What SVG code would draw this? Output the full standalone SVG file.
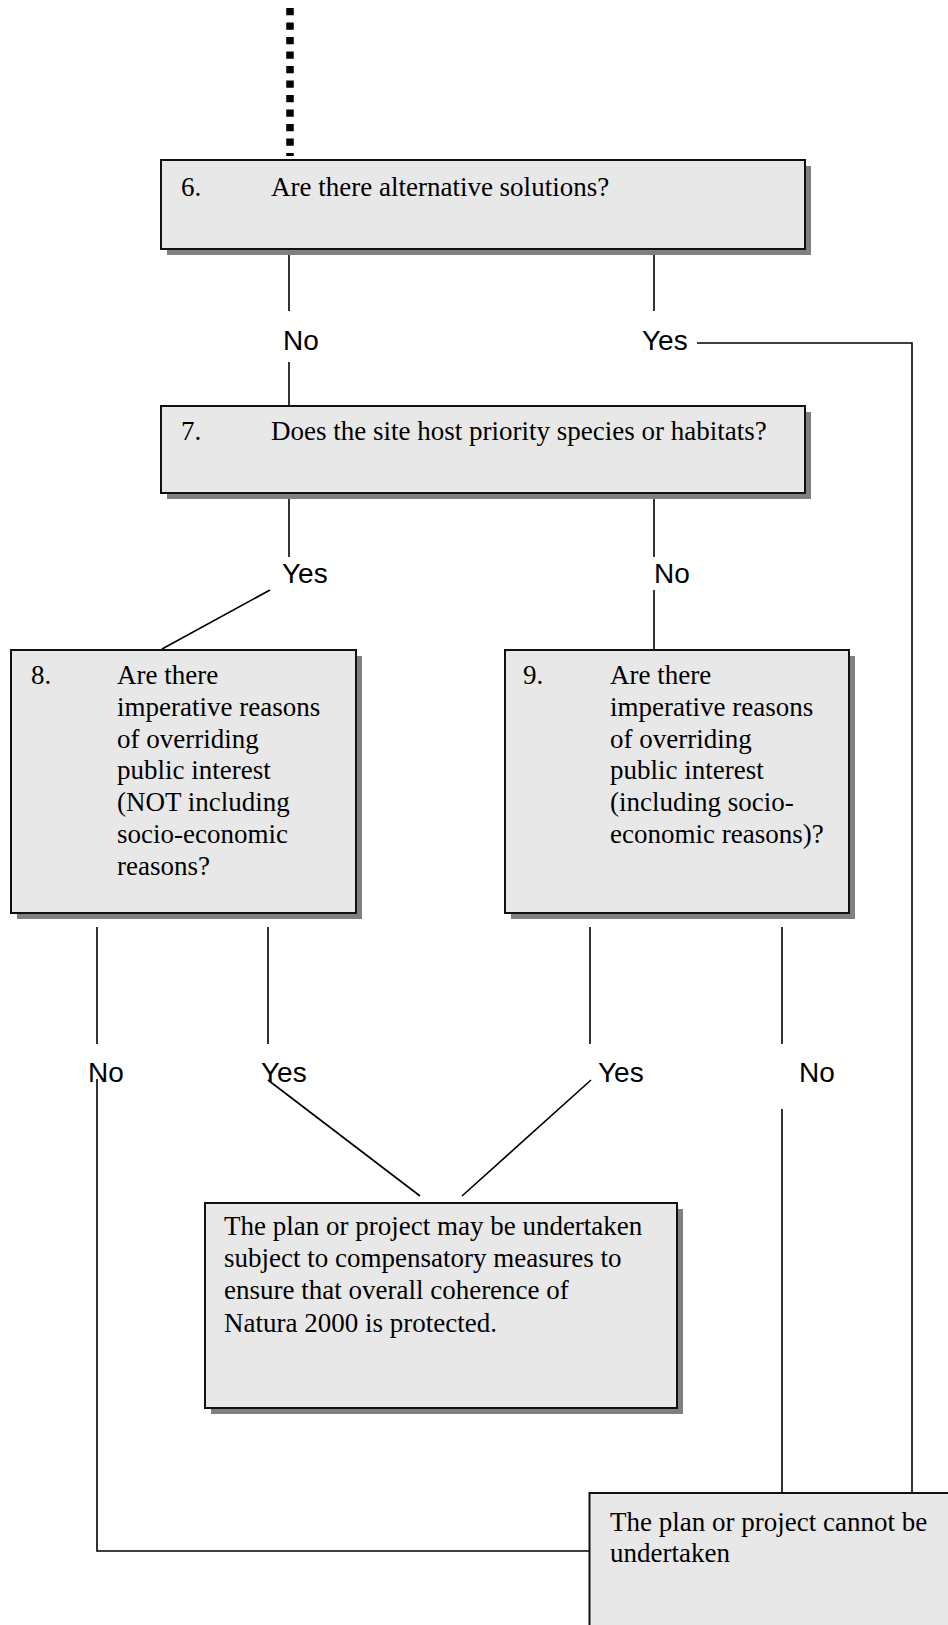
<svg xmlns="http://www.w3.org/2000/svg" width="948" height="1625" viewBox="0 0 948 1625">
<style>
.shadow{fill:#808080;stroke:none}
.box{fill:#e8e8e8;stroke:#111;stroke-width:2}
.t{font-family:"Liberation Serif","Times New Roman",serif;font-size:27px;fill:#000}
.lab{font-family:"Liberation Sans",Arial,sans-serif;font-size:28px;fill:#000}
.c{stroke:#000;stroke-width:1.6;fill:none}
</style>
<rect width="948" height="1625" fill="#fff"/>
<g id="connectors">
<line x1="290" y1="8" x2="290" y2="156" stroke="#000" stroke-width="7.5" stroke-dasharray="7.3 7.2"/>
<line class="c" x1="289" y1="253" x2="289" y2="311"/>
<line class="c" x1="289" y1="362" x2="289" y2="406"/>
<line class="c" x1="654" y1="253" x2="654" y2="311"/>
<polyline class="c" points="697,343 912,343 912,1493"/>
<line class="c" x1="289" y1="497" x2="289" y2="557"/>
<line class="c" x1="270" y1="590" x2="162" y2="649"/>
<line class="c" x1="654" y1="497" x2="654" y2="557"/>
<line class="c" x1="654" y1="590" x2="654" y2="650"/>
<line class="c" x1="97" y1="927" x2="97" y2="1044"/>
<line class="c" x1="268" y1="927" x2="268" y2="1044"/>
<line class="c" x1="590" y1="927" x2="590" y2="1044"/>
<line class="c" x1="782" y1="927" x2="782" y2="1044"/>
<polyline class="c" points="97,1079 97,1551 589,1551" stroke-width="2"/>
<line class="c" x1="268" y1="1080" x2="420" y2="1196"/>
<line class="c" x1="591" y1="1080" x2="462" y2="1196"/>
<line class="c" x1="782" y1="1109" x2="782" y2="1493"/>
</g>
<g id="labels">
<text class="lab" x="283" y="350">No</text>
<text class="lab" x="642" y="350">Yes</text>
<text class="lab" x="282" y="583">Yes</text>
<text class="lab" x="654" y="583">No</text>
<text class="lab" x="88" y="1082">No</text>
<text class="lab" x="261" y="1082">Yes</text>
<text class="lab" x="598" y="1082">Yes</text>
<text class="lab" x="799" y="1082">No</text>
</g>
<g id="node6">
<rect class="shadow" x="167" y="166" width="644" height="89"/>
<rect class="box" x="161" y="160" width="644" height="89"/>
<text class="t" x="181" y="196">6.</text>
<text class="t" x="271" y="196">Are there alternative solutions?</text>
</g>
<g id="node7">
<rect class="shadow" x="167" y="412" width="644" height="87"/>
<rect class="box" x="161" y="406" width="644" height="87"/>
<text class="t" x="181" y="440">7.</text>
<text class="t" x="271" y="440">Does the site host priority species or habitats?</text>
</g>
<g id="node8">
<rect class="shadow" x="17" y="656" width="345" height="263"/>
<rect class="box" x="11" y="650" width="345" height="263"/>
<text class="t" x="31" y="684">8.</text>
<text class="t" x="117" y="684">Are there</text>
<text class="t" x="117" y="716">imperative reasons</text>
<text class="t" x="117" y="748">of overriding</text>
<text class="t" x="117" y="779">public interest</text>
<text class="t" x="117" y="811">(NOT including</text>
<text class="t" x="117" y="843">socio-economic</text>
<text class="t" x="117" y="875">reasons?</text>
</g>
<g id="node9">
<rect class="shadow" x="511" y="656" width="344" height="263"/>
<rect class="box" x="505" y="650" width="344" height="263"/>
<text class="t" x="523" y="684">9.</text>
<text class="t" x="610" y="684">Are there</text>
<text class="t" x="610" y="716">imperative reasons</text>
<text class="t" x="610" y="748">of overriding</text>
<text class="t" x="610" y="779">public interest</text>
<text class="t" x="610" y="811">(including socio-</text>
<text class="t" x="610" y="843">economic reasons)?</text>
</g>
<g id="node-compensatory">
<rect class="shadow" x="211" y="1209" width="472" height="205"/>
<rect class="box" x="205" y="1203" width="472" height="205"/>
<text class="t" x="224" y="1235">The plan or project may be undertaken</text>
<text class="t" x="224" y="1267">subject to compensatory measures to</text>
<text class="t" x="224" y="1299">ensure that overall coherence of</text>
<text class="t" x="224" y="1332">Natura 2000 is protected.</text>
</g>
<g id="node-cannot">
<rect class="box" x="589.5" y="1493" width="370" height="150"/>
<text class="t" x="610" y="1531">The plan or project cannot be</text>
<text class="t" x="610" y="1562">undertaken</text>
</g>
</svg>
